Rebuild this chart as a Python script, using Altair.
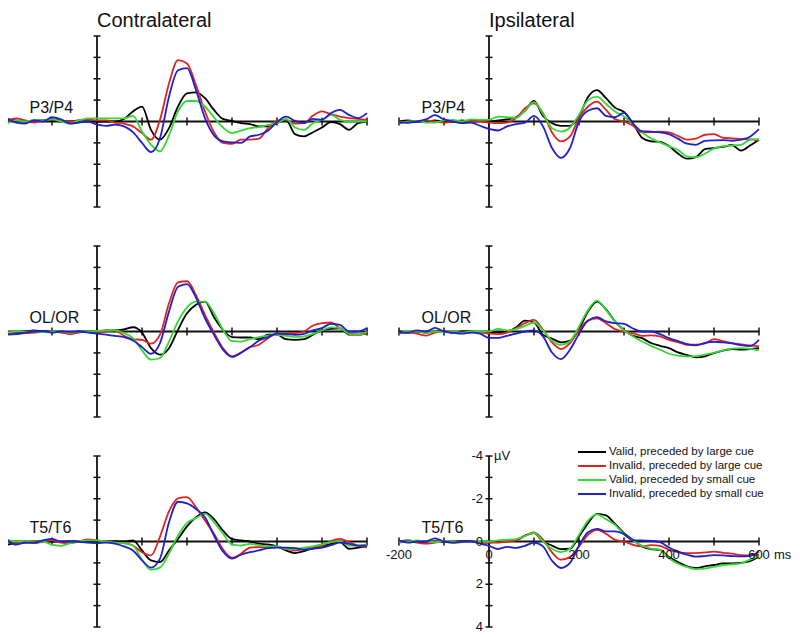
import altair as alt
import pandas as pd

FONT = "Liberation Sans"

TIME = list(range(-200, 601, 20))
CONDITIONS = [
    "Valid, preceded by large cue",
    "Invalid, preceded by large cue",
    "Valid, preceded by small cue",
    "Invalid, preceded by small cue",
]
COLORS = ["#000000", "#e42121", "#33d933", "#2020cc"]
SIDES = ["Contralateral", "Ipsilateral"]
CHANNELS = ["P3/P4", "OL/OR", "T5/T6"]
X_TICKS = list(range(-200, 601, 100))
Y_TICKS = [-4, -3, -2, -1, 0, 1, 2, 3, 4]
X_LABELS = [-200, 0, 200, 400, 600]
Y_LABELS = [-4, -2, 0, 2, 4]

# ---- Contralateral P3/P4 (µV, negative plotted upward) ----
C_P_VL = [-0.1, -0.05, 0, -0.05, -0.05, -0.05, 0, 0, -0.05, 0, 0,
          0, 0, -0.12, -0.47, -0.7, 0.39, 0.85, 0.31, -0.7, -1.32,
          -1.36, -1.09, -0.54, -0.12, -0.03, 0.08, 0.12, 0.23, 0.23, 0.08,
          -0.08, 0.59, 0.7, 0.5, 0.28, 0.03, 0.12, 0.39, 0.08, 0]
C_P_IL = [-0.05, -0.15, -0.05, 0.05, -0.05, -0.1, -0.05, 0, -0.05, -0.1, -0.05,
          -0.05, 0.05, 0.1, 0.23, 0.54, 0.85, -0.08, -1.78, -2.87, -2.71,
          -1.7, -0.47, 0.5, 1.0, 1.05, 0.85, 0.85, 0.8, 0.31, -0.03,
          -0.08, 0.1, 0.08, -0.28, -0.47, -0.34, -0.23, -0.16, -0.12, -0.08]
C_P_VS = [0.1, -0.05, 0, -0.05, -0.05, -0.1, 0, 0.1, -0.05, -0.15, -0.15,
          -0.15, -0.15, -0.15, -0.26, 0.47, 1.08, 1.4, 0.65, -0.47, -0.96,
          -0.96, -0.7, -0.19, 0.28, 0.54, 0.43, 0.31, 0.26, 0.16, 0.08,
          -0.12, 0.28, 0.39, 0.08, -0.08, -0.31, -0.08, 0, 0, 0]
C_P_IS = [-0.15, 0.05, 0.1, -0.05, 0, -0.2, -0.1, 0.1, 0.05, 0, 0.15,
          0.2, 0.15, 0.23, 0.5, 1.0, 1.43, 0.78, -1.16, -2.4, -2.5,
          -1.47, -0.16, 0.65, 0.93, 0.98, 1.0, 0.7, 0.62, 0.43, 0.03,
          -0.23, -0.03, 0.08, -0.12, -0.08, -0.39, -0.54, -0.31, -0.16, -0.39]

# ---- Ipsilateral P3/P4 ----
I_P_VL = [0, -0.05, 0, 0, -0.05, 0, 0, -0.05, 0, -0.05, 0,
          -0.05, -0.1, -0.2, -0.5, -0.96, -0.26, 0.08, 0.2, 0.2, -0.23,
          -1.15, -1.47, -1.09, -0.65, -0.45, 0.09, 0.76, 0.93, 0.95, 1.15,
          1.5, 1.74, 1.67, 1.29, 1.24, 1.19, 1.1, 1.36, 1.12, 0.85]
I_P_IL = [0, 0.05, 0, -0.05, 0, 0.05, 0, 0.05, 0, 0, 0.05,
          0.08, 0.05, -0.15, -0.62, -0.85, -0.39, 0.51, 0.93, 0.7, -0.16,
          -0.7, -0.93, -0.54, -0.11, 0, 0.2, 0.51, 0.5, 0.47, 0.51,
          0.67, 0.85, 0.8, 0.62, 0.59, 0.76, 0.79, 0.82, 0.84, 0.88]
I_P_VS = [0.1, 0, -0.03, 0.05, 0.05, -0.05, -0.08, 0, -0.1, -0.08, -0.08,
          -0.23, -0.2, -0.17, -0.51, -0.91, -0.36, 0.31, 0.47, 0.28, -0.31,
          -1.0, -1.16, -0.82, -0.47, -0.23, 0.11, 0.51, 0.79, 0.98, 1.16,
          1.33, 1.63, 1.67, 1.5, 1.26, 1.16, 1.12, 1.09, 0.85, 0.82]
I_P_IS = [0.05, 0.05, 0, -0.1, -0.3, -0.1, 0, 0.08, 0.05, 0.2, 0.35,
          0.42, 0.23, 0.12, 0.05, -0.26, 0.23, 1.24, 1.7, 1.24, 0,
          -0.5, -0.62, -0.26, -0.2, -0.4, 0.1, 0.45, 0.47, 0.51, 0.59,
          0.8, 1.04, 1.09, 0.91, 0.88, 0.87, 0.9, 0.85, 0.71, 0.36]

# ---- Contralateral OL/OR ----
C_O_VL = [0.1, 0.05, 0, -0.05, 0, 0, 0, 0.05, 0, 0, 0,
          -0.05, -0.05, -0.1, -0.2, 0.05, 0.78, 1.08, 0.78, -0.08, -0.85,
          -1.25, -1.4, -0.67, -0.08, 0.26, 0.28, 0.28, 0.36, 0.15, 0.15,
          0.36, 0.39, 0.36, 0.15, -0.05, -0.12, -0.15, 0.15, 0.15, 0.08]
C_O_IL = [0.05, 0.1, 0.08, 0.05, 0.02, 0, 0.05, 0.12, 0.05, 0, 0.02,
          0, -0.05, 0.2, 0.36, 0.39, 0.57, 0.15, -1.32, -2.3, -2.35,
          -1.7, -0.78, 0.05, 0.78, 1.16, 0.98, 0.73, 0.62, 0.31, 0.1,
          0.08, 0.08, 0, -0.28, -0.39, -0.42, -0.15, 0.08, 0.15, 0.08]
C_O_VS = [0.05, 0, 0.02, 0, 0.03, 0, 0, 0.05, 0, 0, -0.03,
          -0.05, -0.05, 0.08, 0.31, 0.88, 1.32, 1.24, 0.47, -0.47, -1.13,
          -1.4, -1.4, -0.85, -0.08, 0.45, 0.47, 0.36, 0.26, 0.19, 0.16,
          0.2, 0.26, 0.23, 0.11, -0.05, -0.19, -0.16, 0.11, 0.16, 0]
C_O_IS = [0.15, 0.12, 0.05, 0, -0.02, 0.05, 0, 0.02, 0, 0.05, 0.1,
          0.15, 0.2, 0.26, 0.42, 0.73, 1.04, 0.54, -0.93, -2.09, -2.22,
          -1.58, -0.62, 0.16, 0.85, 1.19, 1.0, 0.73, 0.42, 0.26, 0.1,
          0.12, 0.16, 0.11, -0.05, -0.16, -0.36, -0.31, 0, 0, -0.16]

# ---- Ipsilateral OL/OR ----
I_O_VL = [0, 0.05, 0, 0.05, 0, 0, 0.05, 0, 0, 0.02, 0.05,
          0.05, 0, -0.19, -0.51, -0.42, 0.16, 0.33, 0.51, 0.43, -0.11,
          -0.93, -1.4, -1.04, -0.47, -0.06, 0.2, 0.31, 0.54, 0.67, 0.78,
          0.98, 1.1, 1.21, 1.16, 1.01, 0.9, 0.82, 0.85, 0.82, 0.78]
I_O_IL = [0.05, 0.05, 0.1, 0.19, 0.05, 0, 0.05, 0.05, 0, 0.05, 0.1,
          0.12, 0.05, -0.15, -0.39, -0.54, -0.08, 0.51, 0.82, 0.54, -0.05,
          -0.51, -0.62, -0.39, -0.11, 0, 0.08, 0.2, 0.18, 0.23, 0.39,
          0.5, 0.62, 0.62, 0.56, 0.36, 0.45, 0.54, 0.6, 0.65, 0.7]
I_O_VS = [0.1, 0, 0, 0.05, 0, 0.03, 0, 0.05, 0, 0, 0,
          -0.12, -0.05, -0.11, -0.26, -0.42, -0.05, 0.43, 0.62, 0.45, -0.23,
          -1.0, -1.44, -1.0, -0.47, -0.05, 0.23, 0.47, 0.67, 0.85, 1.04,
          1.13, 1.16, 1.15, 1.08, 1.0, 0.88, 0.8, 0.78, 0.81, 0.88]
I_O_IS = [0.05, 0.05, -0.05, 0, -0.17, 0, 0.05, 0.1, 0.05, 0.1, 0.3,
          0.3, 0.2, 0.1, 0, -0.05, 0.23, 0.98, 1.29, 0.85, 0.11,
          -0.51, -0.67, -0.47, -0.39, -0.36, -0.14, 0, 0, 0.12, 0.31,
          0.45, 0.59, 0.65, 0.53, 0.48, 0.51, 0.56, 0.64, 0.68, 0.39]

# ---- Contralateral T5/T6 ----
C_T_VL = [0.15, 0.08, 0.05, 0, 0, 0, 0.02, 0, 0, 0, 0,
          0, -0.02, 0, -0.05, 0.42, 0.88, 0.96, 0.42, -0.12, -0.71,
          -1.13, -1.36, -1.05, -0.51, -0.12, -0.05, 0, 0.1, 0.14, 0.23,
          0.42, 0.54, 0.45, 0.31, 0.23, 0.11, 0.03, 0.34, 0.29, 0.23]
C_T_IL = [-0.05, 0.1, 0.05, 0.08, 0, -0.05, 0.05, 0.08, 0, -0.1, -0.05,
          0, 0.05, 0.08, 0.19, 0.5, 0.65, -0.23, -1.41, -2.02, -2.08,
          -1.6, -0.98, -0.36, 0.37, 0.76, 0.57, 0.29, 0.26, 0.29, 0.26,
          0.34, 0.42, 0.36, 0.26, 0.2, -0.02, -0.12, 0.03, 0.19, 0.26]
C_T_VS = [-0.08, 0, 0.02, 0, 0, 0.15, 0.2, 0.08, 0, -0.05, -0.05,
          0, 0.05, 0.08, 0.19, 0.85, 1.32, 1.22, 0.57, -0.28, -0.87,
          -1.1, -1.29, -0.9, -0.36, 0.14, 0.19, 0.11, 0.17, 0.23, 0.23,
          0.34, 0.34, 0.29, 0.23, 0.14, 0.03, -0.02, 0.19, 0.19, 0.14]
C_T_IS = [-0.08, 0.15, 0.05, 0.05, -0.05, -0.12, 0, 0, 0.02, 0.05, 0.08,
          0.05, 0.1, 0.23, 0.42, 0.88, 1.22, 0.8, -0.9, -1.86, -1.78,
          -1.52, -1.13, -0.28, 0.47, 0.8, 0.62, 0.5, 0.42, 0.31, 0.29,
          0.29, 0.31, 0.39, 0.34, 0.29, 0.17, 0.05, 0.11, 0.19, 0.19]

# ---- Ipsilateral T5/T6 ----
I_T_VL = [0, -0.05, 0, 0.05, 0, 0.02, 0, -0.03, 0, 0.05, 0.05,
          0, -0.05, -0.08, -0.28, -0.39, 0, 0.19, 0.36, 0.34, -0.23,
          -0.85, -1.29, -1.22, -0.82, -0.39, -0.08, 0.23, 0.36, 0.39, 0.73,
          0.96, 1.16, 1.24, 1.16, 1.1, 1.02, 1.02, 1.0, 0.92, 0.7]
I_T_IL = [0.05, 0, 0.05, 0.1, 0.05, 0, 0.05, 0.03, 0, 0.05, 0.05,
          0.05, 0, -0.05, -0.26, -0.42, -0.08, 0.51, 0.85, 0.73, 0.23,
          -0.31, -0.54, -0.36, -0.08, 0, 0.16, 0.23, 0.17, 0.2, 0.39,
          0.5, 0.54, 0.54, 0.51, 0.47, 0.53, 0.57, 0.64, 0.65, 0.62]
I_T_VS = [0, 0, -0.05, 0, 0.03, -0.03, 0, 0, 0.03, 0, 0,
          -0.05, -0.08, -0.11, -0.26, -0.4, 0, 0.34, 0.5, 0.34, -0.31,
          -0.98, -1.27, -1.04, -0.78, -0.34, -0.05, 0.2, 0.33, 0.39, 0.78,
          1.04, 1.19, 1.29, 1.27, 1.19, 1.1, 1.07, 1.02, 0.85, 0.7]
I_T_IS = [-0.05, 0.05, 0, 0, -0.15, 0, 0.05, 0, 0, 0.1, 0.2,
          0.35, 0.25, 0.3, 0.2, 0.05, 0.23, 0.9, 1.24, 1.0, 0.2,
          -0.43, -0.59, -0.47, -0.47, -0.34, -0.05, -0.05, -0.03, 0.03, 0.28,
          0.47, 0.62, 0.71, 0.68, 0.64, 0.65, 0.68, 0.7, 0.67, 0.47]

SERIES = {
    ("Contralateral", "P3/P4"): [C_P_VL, C_P_IL, C_P_VS, C_P_IS],
    ("Ipsilateral", "P3/P4"): [I_P_VL, I_P_IL, I_P_VS, I_P_IS],
    ("Contralateral", "OL/OR"): [C_O_VL, C_O_IL, C_O_VS, C_O_IS],
    ("Ipsilateral", "OL/OR"): [I_O_VL, I_O_IL, I_O_VS, I_O_IS],
    ("Contralateral", "T5/T6"): [C_T_VL, C_T_IL, C_T_VS, C_T_IS],
    ("Ipsilateral", "T5/T6"): [I_T_VL, I_T_IL, I_T_VS, I_T_IS],
}

W, H = 360, 171
INK = "#111111"

xs = alt.Scale(domain=[X_TICKS[0], X_TICKS[-1]], nice=False, zero=False)
ys = alt.Scale(domain=[Y_TICKS[0], Y_TICKS[-1]], reverse=True, nice=False, zero=False)
cscale = alt.Scale(domain=CONDITIONS, range=COLORS)

LEGEND = alt.Legend(
    title=None, orient="none", legendX=570, legendY=409,
    symbolType="stroke", symbolSize=784, symbolStrokeWidth=2,
    labelFont=FONT, labelFontSize=11.5, labelColor=INK, labelOffset=2,
    clipHeight=14, rowPadding=0, padding=0,
)


def X(field):
    return alt.X(field, type="quantitative", scale=xs, axis=None)


def Y(field):
    return alt.Y(field, type="quantitative", scale=ys, axis=None)


def panel(side, channel, first_row, last_row):
    rows = []
    for cond, vals in zip(CONDITIONS, SERIES[(side, channel)]):
        for t, v in zip(TIME, vals):
            rows.append({"time": t, "uv": v, "cond": cond})
    df = pd.DataFrame(rows)

    xaxis = alt.Chart(pd.DataFrame({"t0": [X_TICKS[0]], "t1": [X_TICKS[-1]], "v": [0]})).mark_rule(
        color=INK, strokeWidth=1.8).encode(x=X("t0"), x2="t1", y=Y("v"))
    yaxis = alt.Chart(pd.DataFrame({"t": [0], "v0": [Y_TICKS[0]], "v1": [Y_TICKS[-1]]})).mark_rule(
        color=INK, strokeWidth=1.8).encode(x=X("t"), y=Y("v0"), y2="v1")
    xt = alt.Chart(pd.DataFrame({"t": X_TICKS, "v": [0] * len(X_TICKS)})).mark_tick(
        orient="vertical", size=8, thickness=1.5, color=INK, opacity=1).encode(x=X("t"), y=Y("v"))
    yt = alt.Chart(pd.DataFrame({"t": [0] * len(Y_TICKS), "v": Y_TICKS})).mark_tick(
        orient="horizontal", size=7, thickness=1.5, color=INK, opacity=1).encode(x=X("t"), y=Y("v"))

    lines = alt.Chart(df).mark_line(strokeWidth=1.8, interpolate="monotone", strokeJoin="round").encode(
        x=X("time"), y=Y("uv"),
        color=alt.Color("cond:N", scale=cscale, legend=LEGEND, sort=CONDITIONS),
    )

    lab = alt.Chart(pd.DataFrame({"t": [-150], "v": [0], "s": [channel]})).mark_text(
        align="left", baseline="alphabetic", dy=-8.5, fontSize=16, font=FONT, color=INK
    ).encode(x=X("t"), y=Y("v"), text="s:N")

    layers = [xaxis, yaxis, xt, yt, lines, lab]

    if first_row:
        layers.append(alt.Chart(pd.DataFrame({"t": [0], "v": [Y_TICKS[0]], "s": [side]})).mark_text(
            align="left", baseline="alphabetic", dy=-9, fontSize=20, font=FONT, color=INK
        ).encode(x=X("t"), y=Y("v"), text="s:N"))

    if last_row and side == "Ipsilateral":
        ylab = pd.DataFrame({"t": [0] * len(Y_LABELS), "v": Y_LABELS, "s": [str(v) for v in Y_LABELS]})
        layers.append(alt.Chart(ylab).mark_text(
            align="right", baseline="middle", dx=-6, fontSize=13, font=FONT, color=INK
        ).encode(x=X("t"), y=Y("v"), text="s:N"))
        xlab = pd.DataFrame({"t": X_LABELS, "v": [0] * len(X_LABELS), "s": [str(v) for v in X_LABELS]})
        layers.append(alt.Chart(xlab).mark_text(
            align="center", baseline="top", dy=7, fontSize=13, font=FONT, color=INK
        ).encode(x=X("t"), y=Y("v"), text="s:N"))
        layers.append(alt.Chart(pd.DataFrame({"t": [X_LABELS[-1]], "v": [0], "s": ["ms"]})).mark_text(
            align="left", baseline="top", dy=7, dx=15, fontSize=13, font=FONT, color=INK
        ).encode(x=X("t"), y=Y("v"), text="s:N"))
        layers.append(alt.Chart(pd.DataFrame({"t": [0], "v": [Y_TICKS[0]], "s": ["µV"]})).mark_text(
            align="left", baseline="middle", dx=5, fontSize=13, font=FONT, color=INK
        ).encode(x=X("t"), y=Y("v"), text="s:N"))

    return alt.layer(*layers).properties(width=W, height=H)


panels = []
for i, ch in enumerate(CHANNELS):
    for side in SIDES:
        panels.append(panel(side, ch, i == 0, i == len(CHANNELS) - 1))

PAD = {"left": -2, "top": 3, "right": 0, "bottom": 0}
chart = alt.concat(
    *panels, columns=2, spacing={"row": 39, "column": 32}, bounds="flush"
).properties(padding=PAD).configure(font=FONT, padding=PAD).configure_view(stroke=None)

chart.save("out.html", embed_options={"renderer": "svg", "actions": False})
